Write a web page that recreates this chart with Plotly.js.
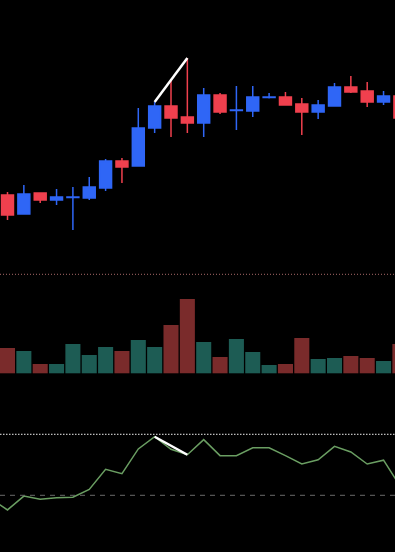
<!DOCTYPE html>
<html>
<head>
<meta charset="utf-8">
<script src="https://cdn.plot.ly/plotly-3.0.1.min.js"></script>
<style>
html,body{margin:0;padding:0;background:#000;}
#chart{width:395px;height:552px;}
</style>
</head>
<body>
<div id="chart"></div>
<script>
// ---- data ----
var idx    = [0,1,2,3,4,5,6,7,8,9,10,11,12,13,14,15,16,17,18,19,20,21,22,23,24];
var open   = [10.125,9.65,10.175,10.0,10.0625,10.05,10.3,10.975,10.85,11.8,12.35,12.075,11.925,12.625,12.2375,12.225,12.5625,12.575,12.4,12.2,12.35,12.825,12.725,12.45,12.6];
var high   = [10.2,10.375,10.175,10.275,10.325,10.575,11.025,11.05,12.3,12.45,13.025,13.55,12.8,12.675,12.85,12.85,12.675,12.7,12.55,12.5,12.925,13.1,12.95,12.725,12.65];
var low    = [9.5,9.65,9.925,9.875,9.25,10.0,10.225,10.425,10.85,11.675,11.575,11.675,11.575,12.15,11.75,12.075,12.5375,12.375,11.625,12.025,12.35,12.675,12.325,12.375,12.0];
var close  = [9.625,10.15,10.0,10.075,10.075,10.325,10.975,10.825,11.8,12.35,12.05,11.925,12.625,12.2,12.25,12.575,12.575,12.375,12.2,12.375,12.825,12.7,12.45,12.6,12.05];
var volume = [253,223,93,93,293,183,263,223,333,263,483,743,313,163,343,213,83,93,353,143,153,173,153,123,293];
var rsiIdx = [-1,0,1,2,3,4,5,6,7,8,9,10,11,12,13,14,15,16,17,18,19,20,21,22,23,24];
var rsi    = [27.5,20.4,29.5,27.4,28.4,28.7,33.9,47.0,44.2,60.4,68.4,60.2,56.6,66.5,56.0,56.0,61.2,61.2,56.0,50.5,53.3,62.1,58.4,50.5,53.0,36.2];
var divFrom = 9, divTo = 11;          // divergence between bars 9 and 11
var rsiUpper = 70, rsiLower = 30;

// ---- styles ----
var UP = '#2f66f6', DOWN = '#f0404e';
var VUP = '#1d5c54', VDOWN = '#7a2b2b';

var volColors = idx.map(function(i){ return close[i] >= open[i] ? VUP : VDOWN; });

var traces = [
  {
    type:'candlestick', x:idx, open:open, high:high, low:low, close:close,
    xaxis:'x', yaxis:'y',
    increasing:{line:{color:UP,width:1.5}, fillcolor:UP},
    decreasing:{line:{color:DOWN,width:1.5}, fillcolor:DOWN},
    whiskerwidth:0, hoverinfo:'skip', showlegend:false
  },
  {
    type:'scatter', mode:'lines',
    x:[divFrom, divTo], y:[high[divFrom], high[divTo]],
    xaxis:'x', yaxis:'y',
    line:{color:'#ffffff', width:2.5}, hoverinfo:'skip', showlegend:false
  },
  {
    type:'bar', x:idx, y:volume, width:0.92,
    marker:{color:volColors, line:{width:0}},
    xaxis:'x', yaxis:'y2', hoverinfo:'skip', showlegend:false
  },
  {
    type:'scatter', mode:'lines', x:rsiIdx, y:rsi,
    xaxis:'x', yaxis:'y3',
    line:{color:'#6a9e62', width:1.5}, hoverinfo:'skip', showlegend:false
  },
  {
    type:'scatter', mode:'lines',
    x:[divFrom, divTo], y:[rsi[rsiIdx.indexOf(divFrom)], rsi[rsiIdx.indexOf(divTo)]],
    xaxis:'x', yaxis:'y3',
    line:{color:'#ffffff', width:2.5}, hoverinfo:'skip', showlegend:false
  }
];

var hidden = {visible:false, showgrid:false, zeroline:false, showticklabels:false, fixedrange:true};

var layout = {
  width:395, height:552,
  margin:{l:0,r:0,t:0,b:0,pad:0},
  paper_bgcolor:'#000000', plot_bgcolor:'#000000',
  showlegend:false,
  boxgap:0.27, boxgroupgap:0,
  xaxis:Object.assign({}, hidden, {range:[-0.459, 23.70], rangeslider:{visible:false}}),
  yaxis:Object.assign({}, hidden, {range:[1.2, 15], domain:[0,1]}),
  yaxis2:Object.assign({}, hidden, {range:[-1787, 3733], overlaying:'y'}),
  yaxis3:Object.assign({}, hidden, {range:[-7.18, 354.77], overlaying:'y'}),
  shapes:[
    {type:'line', xref:'paper', yref:'paper', x0:0, x1:1, y0:1-274.3/552, y1:1-274.3/552,
     line:{color:'#a86868', width:1, dash:'1px,2px'}},
    {type:'line', xref:'paper', yref:'y3', x0:0, x1:1, y0:rsiUpper, y1:rsiUpper,
     line:{color:'#f0f0f0', width:1, dash:'1.5px,1.5px'}},
    {type:'line', xref:'paper', yref:'y3', x0:0, x1:1, y0:rsiLower, y1:rsiLower,
     line:{color:'#6a6a6a', width:1, dash:'5px,5px'}}
  ]
};

Plotly.newPlot('chart', traces, layout, {displayModeBar:false, staticPlot:true});
</script>
</body>
</html>
